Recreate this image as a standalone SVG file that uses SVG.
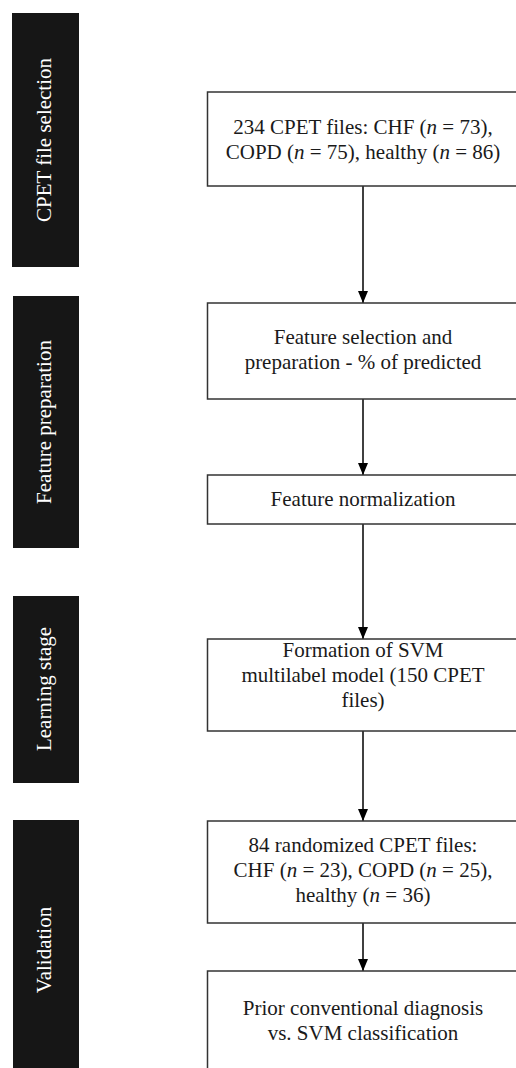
<svg xmlns="http://www.w3.org/2000/svg" width="516" height="1068" viewBox="0 0 516 1068">
<style>
.side{fill:#161616}
.st{fill:#ffffff;font-family:"Liberation Serif",serif;font-size:21px;text-anchor:middle}
.box{fill:#ffffff;stroke:#333333;stroke-width:1.5}
.t{fill:#1a1a1a;font-family:"Liberation Serif",serif;font-size:21px;text-anchor:middle}
.c{stroke:#000000;stroke-width:1.5;fill:none}
</style>
<defs>
<marker id="ah" viewBox="0 0 12 10" markerWidth="12" markerHeight="10" refX="12" refY="5" orient="auto" markerUnits="userSpaceOnUse">
<path d="M0,0 L12,5 L0,10 z" fill="#000000"/>
</marker>
</defs>
<rect width="516" height="1068" fill="#ffffff"/>
<g id="stages">
<g id="stage1"><rect class="side" x="12" y="13" width="67" height="254"/><text class="st" transform="translate(51,140) rotate(-90)">CPET file selection</text></g>
<g id="stage2"><rect class="side" x="13" y="296" width="66" height="252"/><text class="st" transform="translate(51,422) rotate(-90)">Feature preparation</text></g>
<g id="stage3"><rect class="side" x="13" y="596" width="66" height="187"/><text class="st" transform="translate(51,689) rotate(-90)">Learning stage</text></g>
<g id="stage4"><rect class="side" x="13" y="820" width="66" height="250"/><text class="st" transform="translate(51,950) rotate(-90)">Validation</text></g>
</g>
<g id="connectors">
<line class="c" x1="363" y1="186" x2="363" y2="303" marker-end="url(#ah)"/>
<line class="c" x1="363" y1="399" x2="363" y2="475" marker-end="url(#ah)"/>
<line class="c" x1="363" y1="524" x2="363" y2="639" marker-end="url(#ah)"/>
<line class="c" x1="363" y1="731" x2="363" y2="821" marker-end="url(#ah)"/>
<line class="c" x1="363" y1="923" x2="363" y2="971" marker-end="url(#ah)"/>
</g>
<g id="node1"><rect class="box" x="207.5" y="92" width="320" height="94"/>
<text class="t" x="363" y="134">234 CPET files: CHF (<tspan font-style="italic">n</tspan> = 73),</text>
<text class="t" x="363" y="159">COPD (<tspan font-style="italic">n</tspan> = 75), healthy (<tspan font-style="italic">n</tspan> = 86)</text></g>
<g id="node2"><rect class="box" x="207.5" y="303" width="320" height="96"/>
<text class="t" x="363" y="344">Feature selection and</text>
<text class="t" x="363" y="369">preparation - % of predicted</text></g>
<g id="node3"><rect class="box" x="207.5" y="475" width="320" height="49"/>
<text class="t" x="363" y="506">Feature normalization</text></g>
<g id="node4"><rect class="box" x="207.5" y="639" width="320" height="92"/>
<text class="t" x="363" y="657">Formation of SVM</text>
<text class="t" x="363" y="682">multilabel model (150 CPET</text>
<text class="t" x="363" y="707">files)</text></g>
<g id="node5"><rect class="box" x="207.5" y="821" width="320" height="102"/>
<text class="t" x="363" y="852">84 randomized CPET files:</text>
<text class="t" x="363" y="877">CHF (<tspan font-style="italic">n</tspan> = 23), COPD (<tspan font-style="italic">n</tspan> = 25),</text>
<text class="t" x="363" y="902">healthy (<tspan font-style="italic">n</tspan> = 36)</text></g>
<g id="node6"><rect class="box" x="207.5" y="971" width="320" height="120"/>
<text class="t" x="363" y="1015">Prior conventional diagnosis</text>
<text class="t" x="363" y="1040">vs. SVM classification</text></g>
</svg>
